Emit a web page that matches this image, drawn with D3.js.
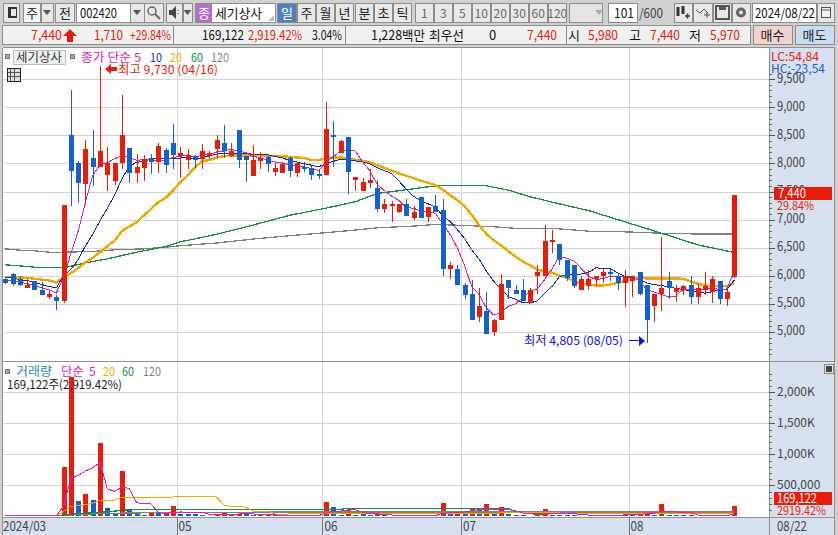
<!DOCTYPE html>
<html>
<head>
<meta charset="utf-8">
<script src="https://cdn.jsdelivr.net/npm/d3@7"></script>
<style>
  html, body { margin: 0; padding: 0; background: #d0d0d0; overflow: hidden; }
  svg { display: block; }
  text { font-family: "Noto Sans CJK KR", "DejaVu Sans", sans-serif; font-size: 12px; }
</style>
</head>
<body>
<svg id="chart" width="838" height="535"></svg>
<script>
// daily candles (index 0 = left most candle)
var opens = [5935,6035,5935,5775,5900,5755,5615,5615,5560,8505,8005,7630,8095,7935,7790,7685,8005,8275,7825,7915,8095,8025,8235,8360,8135,8060,8125,8075,8130,8255,8360,8130,8595,8130,7775,8040,8115,7845,7825,8095,7825,7935,7915,7810,7790,8505,8185,8470,7700,7505,7650,7560,7185,7270,7130,7275,7025,7400,7040,7240,7165,6130,6130,5845,5670,5260,5365,5005,5205,5920,5740,5740,5525,5990,5990,6595,6560,6290,6185,5755,5825,5935,6005,6060,6005,5865,5915,6060,5845,5470,5685,5900,5720,5755,5845,5630,5750,5720,5900,5580,5980];
var highs = [5980,6050,5990,5950,5900,5890,5750,5650,7255,9310,8040,8415,8595,9730,8290,8005,9220,8275,8165,8150,8165,8360,8275,8700,8290,8255,8155,8345,8220,8505,8685,8360,8595,8130,8325,8200,8130,8005,8005,8125,8005,8025,7970,7900,9095,8755,8415,8470,7755,7740,7900,7700,7365,7330,7275,7365,7240,7400,7220,7435,7365,6255,6200,5865,5920,5790,5720,5240,6025,5920,5830,5950,5790,6185,6900,6810,6560,6290,6185,5990,6095,5990,6130,6130,6025,6095,6005,6060,5845,5670,6700,6060,5830,5830,6005,5880,6060,5990,5900,5810,7440];
var lows = [5850,5810,5820,5775,5755,5650,5595,5400,5510,7240,7290,7255,7595,7935,7505,7610,7900,7650,7650,7685,7810,7825,7825,7900,7735,7900,7915,7900,8075,8095,8095,8110,7915,7665,7775,7900,7845,7775,7825,7755,7755,7845,7700,7720,7790,7935,8185,7450,7505,7505,7560,7130,7115,6950,7115,7060,7000,7025,6950,7130,5990,5935,5830,5595,5205,5185,4970,4935,5205,5580,5685,5560,5525,5685,5990,6415,6185,5915,5775,5755,5755,5810,5880,5915,5755,5450,5630,5650,4805,5185,5380,5595,5540,5665,5490,5490,5650,5525,5505,5470,5970];
var closes = [5865,5850,5845,5830,5755,5650,5670,5560,7255,7860,7650,8255,7935,8220,8005,8005,8505,7825,7935,8075,8025,8310,7970,8150,8185,8150,8060,8220,8180,8415,8220,8220,8060,8060,8060,8105,7990,7915,7995,7865,8005,7905,7790,7795,8615,8495,8400,7845,7755,7665,7700,7185,7275,7275,7275,7060,7130,7025,7220,7130,6130,6185,5830,5650,5220,5455,4970,5220,5860,5775,5685,5560,5755,6060,6615,6630,6290,5970,5810,5950,5950,5990,6060,6025,5865,5990,6005,5685,5205,5670,5775,5775,5780,5810,5630,5775,5810,5935,5580,5720,7440];

// price moving averages
var ma5 = [5930,5910,5890,5860,5829,5786,5750,5693,5978,6399,6799,7316,7791,7984,8013,8084,8134,8112,8055,8069,8073,8034,8063,8106,8128,8153,8103,8153,8159,8205,8219,8255,8219,8195,8124,8101,8055,8026,8013,7974,7954,7937,7912,7872,8022,8120,8219,8230,8222,8032,7873,7630,7516,7420,7342,7214,7203,7153,7142,7113,6927,6738,6499,6185,5803,5668,5425,5303,5345,5456,5502,5620,5727,5767,5935,6124,6350,6313,6263,6130,5994,5934,5952,5995,5978,5986,5989,5914,5750,5711,5668,5622,5641,5762,5754,5754,5761,5792,5748,5768,6097];
var ma10 = [5965,5965,5930,5917,5881,5845,5810,5786,6005,6114,6292,6533,6742,6981,7206,7441,7725,7951,8020,8041,8078,8084,8087,8080,8098,8113,8068,8108,8132,8166,8186,8179,8186,8177,8164,8160,8155,8122,8104,8049,8027,7996,7969,7942,7998,8037,8078,8071,8047,8027,7996,7924,7873,7821,7687,7543,7416,7334,7281,7227,7070,6970,6826,6663,6458,6297,6081,5901,5765,5629,5585,5522,5515,5556,5695,5813,5985,6020,6015,6032,6059,6142,6132,6129,6054,5990,5961,5933,5872,5844,5827,5805,5777,5756,5732,5711,5691,5716,5755,5761,5925];
var ma20 = [5982,5982,5970,5964,5947,5935,5917,5881,5976,6047,6136,6243,6320,6421,6528,6629,6795,6878,6955,7073,7192,7311,7388,7518,7666,7785,7929,8041,8060,8107,8130,8136,8142,8142,8142,8148,8130,8130,8124,8119,8107,8100,8060,8060,8089,8107,8107,8089,8065,8041,8024,7970,7923,7870,7822,7781,7739,7692,7656,7615,7537,7437,7348,7241,7081,6903,6743,6636,6541,6440,6340,6255,6184,6107,6083,6053,6006,5964,5905,5864,5840,5828,5828,5846,5875,5905,5935,5964,5953,5953,5953,5953,5953,5947,5899,5858,5828,5816,5816,5816,5875];
var ma60Idx = [0,2,4,6,8,10,12,14,18,22,24,25,29,33,39,44,48,51,56,59,63,66,69,72,76,80,85,90,95,100];
var ma60 = [6196,6178,6154,6142,6142,6202,6255,6302,6421,6522,6607,6630,6740,6870,7077,7205,7318,7466,7549,7603,7603,7603,7525,7407,7281,7162,6961,6759,6551,6415];
var ma120Idx = [0,2,4,7,8,12,15,19,22,24,29,34,39,43,48,51,56,59,63,67,70,76,80,85,90,94,100];
var ma120 = [6480,6457,6445,6409,6421,6433,6463,6480,6510,6536,6584,6655,6714,6757,6814,6855,6885,6915,6897,6873,6845,6836,6795,6783,6759,6747,6747];

// volume (thousand shares) and bar colour: r = more than the day before, b = less
var volumes = [10,8,8,6,8,6,6,8,801,2247,253,366,269,1188,140,54,736,124,65,27,48,54,38,172,43,43,43,27,11,38,65,38,38,38,22,16,22,22,11,14,12,12,14,12,234,153,24,100,24,33,24,33,15,10,10,15,8,10,12,15,218,40,40,40,120,120,200,40,147,40,24,24,10,33,120,30,30,30,30,10,10,10,10,10,10,75,30,30,75,30,200,30,30,30,30,10,10,10,10,10,169];
var volDir = "rbbbbbbbrrbrbrbbrbbbrbrrbbbbbrrbrbbbrbbrbrbrrbbrbbbrbbbrrbbrrbrbrbrbrbbbbrrbbrbbbbrbrrbrrbrbbbrbbrrbr";
var volMa5 = [8,8,8,8,8,8,8,10,168,610,660,733,787,871,443,403,477,448,224,201,200,64,46,68,71,70,68,66,33,32,37,36,38,44,40,30,27,24,19,17,16,14,13,12,57,85,87,105,107,67,41,43,26,23,18,17,12,11,11,12,52,58,65,71,92,112,104,104,125,109,90,55,49,26,42,44,45,49,48,26,22,18,14,10,10,23,27,31,44,48,87,73,73,64,64,22,18,14,10,10,42];
var volMa20Idx = [0,7,8,9,10,11,12,13,14,15,16,23,24,28,29,30,31,33,34,36,37,44,45,69,74,80,100];
var volMa20 = [16,16,80,161,172,188,215,258,263,263,312,312,328,328,312,183,161,150,86,86,38,40,50,55,60,45,40];
var volMa60Idx = [0,8,9,10,12,14,17,46,47,69,70,73,100];
var volMa60 = [16,16,32,43,59,75,107,113,130,130,75,50,50];
var volMa120Idx = [0,8,10,13,17,23,40,100];
var volMa120 = [16,16,32,48,54,65,70,72];

// axes
var priceTicks = [5000,5500,6000,6500,7000,7500,8000,8500,9000,9500];
var volTicks = [500,1000,1500,2000];
var volTickLabels = ["500,000","1,000K","1,500K","2,000K"];
var monthStarts = [24,44,63,86];
var monthLabels = ["05","06","07","08"];

var red = "#e91c0c", blue = "#1360d0";
var magenta = "#e020b0", navy = "#1030a0", orange = "#f0a800", green = "#109040", gray = "#808080";
var axisBg = "#d6e0ee", gridCol = "#d4d4d4", borderCol = "#909090";

var svg = d3.select("#chart");

var xScale = d3.scaleLinear().domain([0, 100]).range([5.3, 734.3]);
var step = xScale(1) - xScale(0);
var yPrice = d3.scaleLinear().domain([5000, 9000]).range([332, 107.3]);
var yVol = d3.scaleLinear().domain([0, 2000]).range([516.4, 392.3]);

function crisp(v) { return Math.round(v) + 0.5; }

function txt(g, x, y, s, col, opt) {
  opt = opt || {};
  var t = g.append("text").attr("x", x).attr("y", y).attr("fill", col || "#222").text(s);
  if (opt.size) t.style("font-size", opt.size + "px");
  if (opt.anchor) t.attr("text-anchor", opt.anchor);
  if (opt.w) t.attr("textLength", opt.w).attr("lengthAdjust", "spacingAndGlyphs");
  return t;
}

function box(g, x, y, w, h, fill, stroke) {
  return g.append("rect").attr("x", x + 0.5).attr("y", y + 0.5).attr("width", w).attr("height", h)
    .attr("fill", fill).attr("stroke", stroke || "#8c8c8c").attr("shape-rendering", "crispEdges");
}

// toolbar, first row
var bar = svg.append("g");
bar.append("rect").attr("width", 838).attr("height", 47).attr("fill", "#d0d0d0");

function btn(x, w, s, opt) {
  opt = opt || {};
  box(bar, x, 3, w, 19, opt.fill || "#e8e8e8");
  if (s) txt(bar, x + w / 2 + 0.5, 18, s, opt.col || "#222", {anchor: "middle", size: opt.size || 13});
}
function dropArrow(x) {
  bar.append("path").attr("d", "M" + (x - 4) + " 10h8l-4 5z").attr("fill", "#555");
}

btn(3, 16, "");
bar.append("rect").attr("x", 8).attr("y", 7).attr("width", 9).attr("height", 11).attr("fill", "#333");
bar.append("rect").attr("x", 11).attr("y", 9).attr("width", 5).attr("height", 7).attr("fill", "#e8e8e8");
btn(23, 17, "주", {fill: "#f4f4f4"});
btn(41, 12, ""); dropArrow(47);
btn(55, 19, "전");
btn(76, 54, "", {fill: "#fff"});
txt(bar, 80, 18, "002420", "#111", {w: 37, size: 13});
btn(130, 14, ""); dropArrow(137);
btn(144, 19, "");
bar.append("circle").attr("cx", 152).attr("cy", 11).attr("r", 4).attr("fill", "none").attr("stroke", "#666").attr("stroke-width", 1.5);
bar.append("path").attr("d", "M155 14l5 5").attr("stroke", "#666").attr("stroke-width", 2);
btn(166, 16, "");
bar.append("path").attr("d", "M169 10h3l4 -4v13l-4 -4h-3z").attr("fill", "#444");
bar.append("path").attr("d", "M178 10v1M178 13v1").attr("stroke", "#444");
btn(183, 9, ""); dropArrow(187.5);
btn(195, 80, "", {fill: "#fff"});
bar.append("rect").attr("x", 196).attr("y", 4).attr("width", 16).attr("height", 18).attr("fill", "#b070c8");
txt(bar, 204, 18, "종", "#fff", {anchor: "middle", size: 13});
txt(bar, 215, 18, "세기상사", "#111", {w: 47, size: 13});
bar.append("path").attr("d", "M274 21h-6l6 -6z").attr("fill", "#bbb");
btn(277, 19, "일", {fill: "#5080c0", col: "#fff"});
btn(297, 18, "주"); btn(316, 18, "월"); btn(335, 18, "년");
btn(355, 18, "분"); btn(374, 18, "초"); btn(393, 18, "틱");
var minuteBtns = ["1","3","5","10","20","30","60","120"];
minuteBtns.forEach(function(s, i) {
  btn(414.5 + i * 19, 18.5, s, {col: "#666", size: 12});
});
btn(569, 33, "", {fill: "#e4e4e4"});
bar.append("path").attr("d", "M595 10h8l-4 5z").attr("fill", "#aaa");
btn(608, 29, "", {fill: "#fff"});
txt(bar, 634, 18, "101", "#111", {anchor: "end", w: 20, size: 13});
txt(bar, 639, 18, "/600", "#444", {w: 24, size: 13});
btn(674, 18, ""); btn(693, 19, ""); btn(713, 18, ""); btn(732, 18, "");
bar.append("path").attr("d", "M678 7v9M683 6v8").attr("stroke", "#333").attr("stroke-width", 3);
bar.append("path").attr("d", "M685 16h5M687.5 13.5v5").attr("stroke", "#333").attr("stroke-width", 1.5);
bar.append("path").attr("d", "M696 10l4 3 4-4 4 4M704 15h6M707 12v6").attr("stroke", "#555").attr("fill", "none");
bar.append("rect").attr("x", 716).attr("y", 6).attr("width", 13).attr("height", 13).attr("fill", "none").attr("stroke", "#555").attr("stroke-width", 2);
bar.append("rect").attr("x", 719).attr("y", 6).attr("width", 7).attr("height", 4).attr("fill", "#555");
bar.append("circle").attr("cx", 741).attr("cy", 12.5).attr("r", 5).attr("fill", "#666");
bar.append("circle").attr("cx", 741).attr("cy", 12.5).attr("r", 2).attr("fill", "#e8e8e8");
btn(752, 64, "", {fill: "#fff"});
txt(bar, 755, 18, "2024/08/22", "#111", {w: 60, size: 13});
btn(817, 17, "");
box(bar, 821, 7, 9, 10, "#f4f4f4", "#555");
bar.append("path").attr("d", "M821 10h9").attr("stroke", "#555");

// toolbar, second row
box(bar, 2, 25, 171, 19, "#f0f0f0");
box(bar, 173, 25, 172, 19, "#f0f0f0");
box(bar, 345, 25, 221, 19, "#f0f0f0");
box(bar, 566, 25, 184, 19, "#f0f0f0");
txt(bar, 31, 40, "7,440", red, {w: 31, size: 13});
bar.append("path").attr("d", "M70 29l7 7h-4v6h-6v-6h-4z").attr("fill", red);
txt(bar, 94, 40, "1,710", red, {w: 29, size: 13});
txt(bar, 130, 40, "+29.84%", red, {w: 41, size: 13});
txt(bar, 202, 40, "169,122", "#111", {w: 42, size: 13});
txt(bar, 248, 40, "2,919.42%", red, {w: 54, size: 13});
txt(bar, 312, 40, "3.04%", "#111", {w: 30, size: 13});
txt(bar, 371, 40, "1,228백만", "#111", {w: 54, size: 13});
txt(bar, 429, 40, "최우선", "#111", {w: 35, size: 13});
txt(bar, 489, 40, "0", "#111", {size: 13});
txt(bar, 527, 40, "7,440", red, {w: 30, size: 13});
txt(bar, 568, 40, "시", "#111", {size: 13});
txt(bar, 588, 40, "5,980", red, {w: 30, size: 13});
txt(bar, 629, 40, "고", "#111", {size: 13});
txt(bar, 650, 40, "7,440", red, {w: 30, size: 13});
txt(bar, 689, 40, "저", "#111", {size: 13});
txt(bar, 710, 40, "5,970", red, {w: 30, size: 13});
box(bar, 753, 25, 39, 19, "#f2d2cc");
txt(bar, 772.5, 40, "매수", "#222", {anchor: "middle", size: 13});
box(bar, 795, 25, 39, 19, "#c8dcf2");
txt(bar, 814.5, 40, "매도", "#222", {anchor: "middle", size: 13});

// panes
var plot = svg.append("g");
plot.append("rect").attr("x", 2).attr("y", 47).attr("width", 832).attr("height", 488).attr("fill", "#fff");
plot.append("rect").attr("x", 769).attr("y", 48).attr("width", 65).attr("height", 487).attr("fill", axisBg);
plot.append("rect").attr("x", 2).attr("y", 517).attr("width", 767).attr("height", 18).attr("fill", axisBg);

// grid
var grid = svg.append("g").attr("stroke", gridCol).attr("shape-rendering", "crispEdges");
grid.selectAll(".gp").data(priceTicks).enter().append("line")
  .attr("x1", 3).attr("x2", 769).attr("y1", function(d) { return crisp(yPrice(d)); }).attr("y2", function(d) { return crisp(yPrice(d)); });
grid.selectAll(".gv").data(volTicks).enter().append("line")
  .attr("x1", 3).attr("x2", 769).attr("y1", function(d) { return crisp(yVol(d)); }).attr("y2", function(d) { return crisp(yVol(d)); });
grid.selectAll(".gm").data(monthStarts).enter().append("line")
  .attr("x1", function(d) { return crisp(xScale(d) - step / 2); }).attr("x2", function(d) { return crisp(xScale(d) - step / 2); })
  .attr("y1", 48).attr("y2", 517);

// moving averages
function idxLine(g, idx, vals, y, col, w) {
  var line = d3.line().x(function(d) { return xScale(d[0]); }).y(function(d) { return y(d[1]); });
  g.append("path").datum(idx.map(function(d, i) { return [d, vals[i]]; }))
    .attr("d", line).attr("fill", "none").attr("stroke", col).attr("stroke-width", w)
    .attr("shape-rendering", "crispEdges");
}
var allIdx = d3.range(101);

var lines = svg.append("g");
idxLine(lines, ma120Idx, ma120, yPrice, gray, 1.3);
idxLine(lines, ma60Idx, ma60, yPrice, green, 1.3);
idxLine(lines, allIdx, ma20, yPrice, orange, 2.4);
idxLine(lines, allIdx, ma10, yPrice, navy, 1);
idxLine(lines, allIdx, ma5, yPrice, magenta, 1);

// candles
var candles = svg.append("g").attr("shape-rendering", "crispEdges");
allIdx.forEach(function(i) {
  var col = closes[i] >= opens[i] ? red : blue;
  var cx = Math.round(xScale(i));
  candles.append("line").attr("x1", cx + 0.5).attr("x2", cx + 0.5)
    .attr("y1", yPrice(highs[i])).attr("y2", yPrice(lows[i])).attr("stroke", col);
  var top = yPrice(Math.max(opens[i], closes[i]));
  var bot = yPrice(Math.min(opens[i], closes[i]));
  candles.append("rect").attr("x", cx - 2).attr("width", 5).attr("y", top)
    .attr("height", Math.max(bot - top, 1.5)).attr("fill", col);
});

// volume bars and their averages
var volBars = svg.append("g").attr("shape-rendering", "crispEdges");
volBars.selectAll("rect").data(volumes).enter().append("rect")
  .attr("x", function(d, i) { return Math.round(xScale(i)) - 2; })
  .attr("width", 5)
  .attr("y", function(d) { return yVol(d); })
  .attr("height", function(d) { return yVol(0) - yVol(d); })
  .attr("fill", function(d, i) { return volDir[i] == "r" ? red : blue; });

var volLines = svg.append("g");
idxLine(volLines, volMa120Idx, volMa120, yVol, gray, 1.3);
idxLine(volLines, volMa60Idx, volMa60, yVol, green, 1.3);
idxLine(volLines, volMa20Idx, volMa20, yVol, orange, 1);
idxLine(volLines, allIdx, volMa5, yVol, magenta, 1);

// pane borders
var borders = svg.append("g").attr("stroke", borderCol).attr("shape-rendering", "crispEdges").attr("fill", "none");
borders.append("path").attr("d", "M2.5 47.5H834.5V535M2.5 47.5V535M2.5 361.5H834.5M2.5 517.5H834.5M769.5 47.5V535").attr("stroke-width", 1);

// price axis
var axisG = svg.append("g").attr("transform", "translate(769,0)");
axisG.append("g").call(d3.axisRight(yPrice).tickValues(d3.range(4600, 10000, 100)).tickSize(3).tickFormat(""))
  .call(function(g) { g.select(".domain").remove(); })
  .selectAll("line").attr("stroke", "#666").attr("shape-rendering", "crispEdges");
axisG.append("g").call(d3.axisRight(yPrice).tickValues(priceTicks).tickSize(6).tickFormat(d3.format(",")))
  .call(function(g) { g.select(".domain").remove(); })
  .call(function(g) {
    g.selectAll("line").attr("stroke", "#555").attr("shape-rendering", "crispEdges");
    g.selectAll("text").attr("fill", "#444").attr("x", 8).attr("dy", "0.22em").attr("textLength", 28).attr("lengthAdjust", "spacingAndGlyphs").style("font-size", "13px").style("font-family", '"Noto Sans CJK KR"');
  });

// volume axis
axisG.append("g").call(d3.axisRight(yVol).tickValues(d3.range(100, 2400, 100)).tickSize(3).tickFormat(""))
  .call(function(g) { g.select(".domain").remove(); })
  .selectAll("line").attr("stroke", "#666").attr("shape-rendering", "crispEdges");
axisG.append("g").call(d3.axisRight(yVol).tickValues(volTicks).tickSize(6).tickFormat(function(d, i) { return volTickLabels[i]; }))
  .call(function(g) { g.select(".domain").remove(); })
  .call(function(g) {
    g.selectAll("line").attr("stroke", "#555").attr("shape-rendering", "crispEdges");
    g.selectAll("text").attr("fill", "#444").attr("x", 8).attr("dy", "0.25em").style("font-size", "12px").style("font-family", '"Noto Sans CJK KR"');
  });

// time axis
var timeG = svg.append("g");
timeG.selectAll("line").data(monthStarts).enter().append("line")
  .attr("x1", function(d) { return crisp(xScale(d) - step / 2); }).attr("x2", function(d) { return crisp(xScale(d) - step / 2); })
  .attr("y1", 517).attr("y2", 535).attr("stroke", "#777").attr("shape-rendering", "crispEdges");
txt(timeG, 3, 531, "2024/03", "#444", {size: 13, w: 43});
monthStarts.forEach(function(d, i) {
  txt(timeG, xScale(d) - step / 2 + 2, 531, monthLabels[i], "#444", {size: 13, w: 13});
});
txt(timeG, 777, 531, "08/22", "#444", {size: 13, w: 30});

// value tags on the axes
var tags = svg.append("g");
tags.append("rect").attr("x", 770).attr("y", 48).attr("width", 64).attr("height", 25).attr("fill", axisBg);
txt(tags, 771, 61, "LC:54,84", red, {size: 12, w: 48});
txt(tags, 771, 73, "HC:-23,54", "#1360d0", {size: 12, w: 54});
tags.append("rect").attr("x", 774).attr("y", 187).attr("width", 58).attr("height", 13).attr("fill", red);
txt(tags, 778, 198, "7,440", "#fff", {size: 13, w: 28});
txt(tags, 777, 210, "29.84%", red, {size: 12, w: 37});
tags.append("rect").attr("x", 774).attr("y", 492).attr("width", 58).attr("height", 13).attr("fill", red);
txt(tags, 777, 503, "169,122", "#fff", {size: 13, w: 40});
txt(tags, 777, 515, "2919.42%", red, {size: 12, w: 49});

// pane titles
var lab = svg.append("g");
box(lab, 5, 54, 4, 4, "#aaa", "#777");
box(lab, 13, 50, 52, 14, "#f0f0f0", "#bbb");
txt(lab, 39, 62, "세기상사", "#333", {anchor: "middle", w: 46});
box(lab, 70, 54, 4, 4, "#aaa", "#777");
txt(lab, 81, 62, "종가 단순 5", magenta, {w: 60});
txt(lab, 150, 62, "10", "#1030a0", {w: 12});
txt(lab, 170, 62, "20", orange, {w: 12});
txt(lab, 191, 62, "60", green, {w: 12});
txt(lab, 211, 62, "120", gray, {w: 18});
box(lab, 7, 68, 13, 13, "#ddd", "#222");
lab.append("path").attr("d", "M10.5 69v12M14.5 69v12M8 72.5h12M8 76.5h12").attr("stroke", "#555").attr("shape-rendering", "crispEdges");

lab.append("path").attr("d", "M105 69l6-5v3h6v4h-6v3z").attr("fill", red);
txt(lab, 118, 74, "최고 9,730 (04/16)", red, {w: 100});

txt(lab, 524, 345, "최저 4,805 (08/05)", "#1010e0", {w: 99});
lab.append("path").attr("d", "M629 340.5h10").attr("stroke", "#1010e0");
lab.append("path").attr("d", "M639 336l6 5-6 5z").attr("fill", "#1010e0");

box(lab, 5, 369, 4, 4, "#aaa", "#777");
txt(lab, 16, 376, "거래량", "#2a9090", {w: 36});
txt(lab, 61, 376, "단순", magenta, {w: 23});
txt(lab, 89, 376, "5", magenta);
txt(lab, 103, 376, "20", orange, {w: 12});
txt(lab, 122, 376, "60", green, {w: 12});
txt(lab, 143, 376, "120", gray, {w: 18});
txt(lab, 7, 389, "169,122주(2,919.42%)", "#222", {w: 115});
box(lab, 824, 364, 9, 9, "#e8e8e8", "#888");
lab.append("rect").attr("x", 826).attr("y", 366).attr("width", 6).attr("height", 6).attr("fill", "#444");
</script>
</body>
</html>
